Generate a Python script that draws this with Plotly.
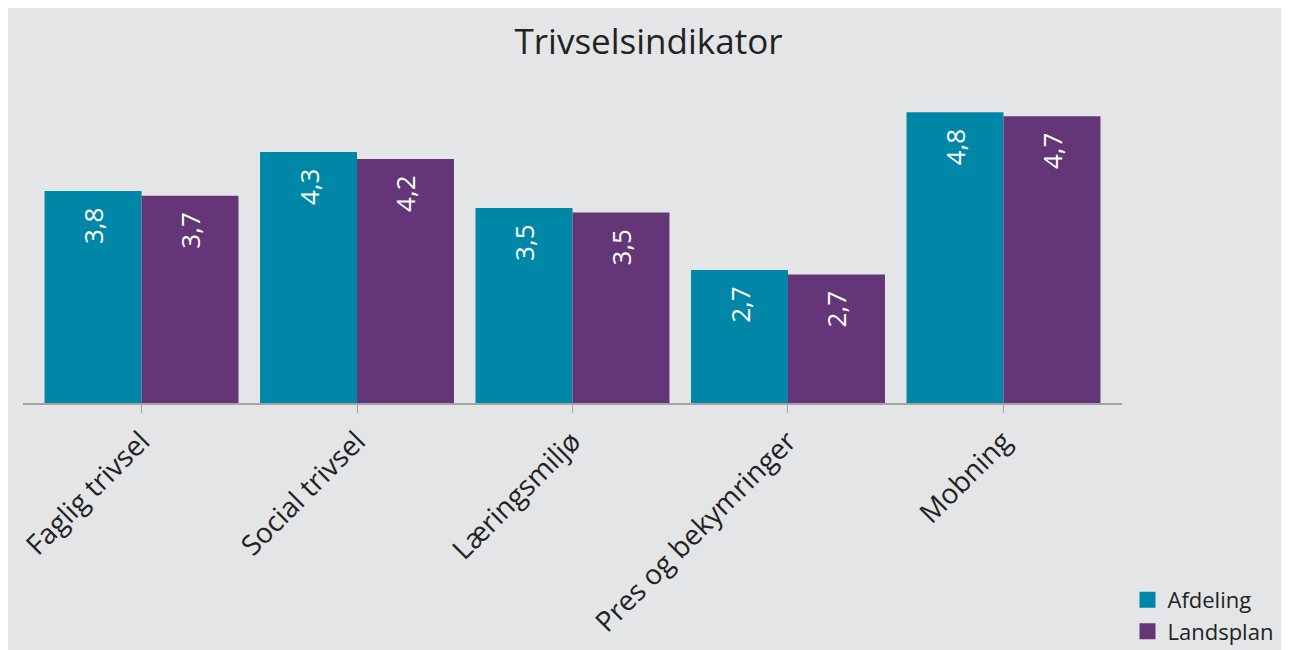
"""
Trivselsindikator - grouped bar chart (Afdeling vs Landsplan)
"""

import plotly.graph_objects as go

# Categories and values
categories = ["Faglig trivsel", "Social trivsel", "Læringsmiljø", "Pres og bekymringer", "Mobning"]
afdeling = [3.77, 4.28, 3.55, 2.74, 4.80]
landsplan = [3.71, 4.19, 3.49, 2.68, 4.75]
afdeling_labels = ["3,8", "4,3", "3,5", "2,7", "4,8"]
landsplan_labels = ["3,7", "4,2", "3,5", "2,7", "4,7"]
series_names = ["Afdeling", "Landsplan"]

TEAL = "#0086a6"
PURPLE = "#643677"
BG = "#e4e5e7"
FONT = "Open Sans"

fig = go.Figure()

# Bars (legend is drawn by the dummy traces below, to get bigger swatches)
for name, vals, labels, color in zip(series_names, [afdeling, landsplan],
                                     [afdeling_labels, landsplan_labels], [TEAL, PURPLE]):
    fig.add_trace(go.Bar(
        x=categories,
        y=vals,
        name=name,
        text=labels,
        texttemplate="%{text}\u00a0\u00a0",
        textposition="inside",
        insidetextanchor="end",
        textangle=-90,
        textfont=dict(color="white", size=26, family=FONT),
        marker=dict(color=color, line=dict(width=0)),
        showlegend=False,
    ))

# Legend swatches
for name, color in zip(series_names, [TEAL, PURPLE]):
    fig.add_trace(go.Scatter(
        x=[None],
        y=[None],
        mode="markers",
        name=name,
        marker=dict(symbol="square", size=16, color=color),
        showlegend=True,
    ))

# Layout
fig.update_layout(
    width=1281,
    height=642,
    title=dict(
        text="Trivselsindikator",
        x=0.5,
        xanchor="center",
        y=0.947,
        yanchor="middle",
        font=dict(size=35, color="#222222", family=FONT),
    ),
    barmode="group",
    bargap=0.1,
    bargroupgap=0,
    margin=dict(l=15, r=167, t=89, b=247, autoexpand=False),
    plot_bgcolor=BG,
    paper_bgcolor=BG,
    font=dict(family=FONT, color="#333333"),
    legend=dict(
        x=1.005,
        xanchor="left",
        y=-0.575,
        yanchor="top",
        font=dict(size=22, color="#222222", family=FONT),
        bgcolor="rgba(0,0,0,0)",
        itemsizing="trace",
        tracegroupgap=0,
    ),
    uniformtext=dict(minsize=10, mode="show"),
)

fig.update_xaxes(
    range=[-0.55, 4.55],
    showline=True,
    linecolor="#a3a3a3",
    linewidth=1.5,
    ticks="outside",
    ticklen=8,
    tickcolor="#a3a3a3",
    tickangle=-45,
    ticklabelstandoff=1,
    tickfont=dict(size=28, color="#222222", family=FONT),
    showgrid=False,
)

fig.update_yaxes(
    range=[1, 5],
    visible=False,
    showgrid=False,
    zeroline=False,
)

fig.write_html("out.html")
